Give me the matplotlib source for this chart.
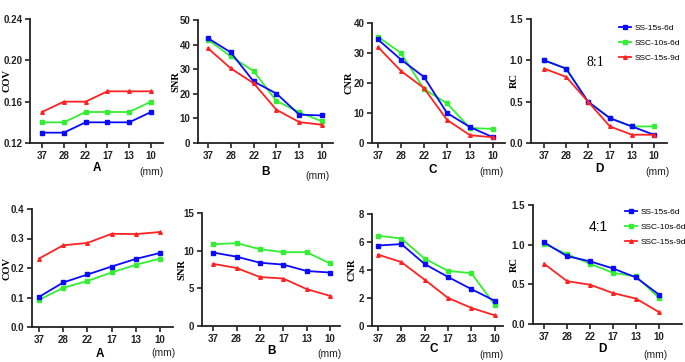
import matplotlib
matplotlib.use("Agg")
import matplotlib.pyplot as plt
import numpy as np

sizes = ["37", "28", "22", "17", "13", "10"]
series_names = ["SS-15s-6d", "SSC-10s-6d", "SSC-15s-9d"]

# Top row (8:1)
cov_81_ss = [0.13, 0.13, 0.14, 0.14, 0.14, 0.15]
cov_81_ssc10 = [0.14, 0.14, 0.15, 0.15, 0.15, 0.16]
cov_81_ssc15 = [0.15, 0.16, 0.16, 0.17, 0.17, 0.17]
snr_81_ss = [42.6, 36.8, 25.0, 20.1, 11.5, 11.2]
snr_81_ssc10 = [42.0, 35.2, 29.2, 17.1, 12.5, 8.8]
snr_81_ssc15 = [38.5, 30.3, 24.3, 13.5, 8.5, 7.4]
cnr_81_ss = [34.5, 27.8, 22.0, 10.0, 5.3, 1.9]
cnr_81_ssc10 = [35.4, 30.0, 18.0, 13.2, 5.0, 4.7]
cnr_81_ssc15 = [32.0, 24.0, 18.3, 7.7, 2.6, 1.9]
rc_81_ss = [1.0, 0.9, 0.5, 0.3, 0.2, 0.1]
rc_81_ssc10 = [1.0, 0.9, 0.5, 0.3, 0.2, 0.2]
rc_81_ssc15 = [0.9, 0.8, 0.5, 0.2, 0.1, 0.1]

# Bottom row (4:1)
cov_41_ss = [0.102, 0.151, 0.178, 0.205, 0.231, 0.251]
cov_41_ssc10 = [0.092, 0.133, 0.156, 0.185, 0.211, 0.232]
cov_41_ssc15 = [0.232, 0.277, 0.285, 0.316, 0.315, 0.322]
snr_41_ss = [9.75, 9.2, 8.4, 8.15, 7.3, 7.1]
snr_41_ssc10 = [10.85, 11.0, 10.2, 9.8, 9.8, 8.3]
snr_41_ssc15 = [8.25, 7.7, 6.5, 6.3, 4.9, 4.0]
cnr_41_ss = [5.75, 5.85, 4.42, 3.5, 2.63, 1.8]
cnr_41_ssc10 = [6.45, 6.25, 4.8, 3.94, 3.77, 1.5]
cnr_41_ssc15 = [5.1, 4.56, 3.3, 2.0, 1.29, 0.76]
rc_41_ss = [1.03, 0.855, 0.79, 0.70, 0.587, 0.37]
rc_41_ssc10 = [1.01, 0.88, 0.76, 0.645, 0.60, 0.33]
rc_41_ssc15 = [0.76, 0.54, 0.495, 0.39, 0.32, 0.15]

colors = ["#0a0aff", "#33ee33", "#ff2222"]
W, H = 685, 362
fig = plt.figure(figsize=(W / 100, H / 100), dpi=100)

def px_axes(x0, y0, x1, y1):
    return fig.add_axes([x0 / W, 1 - y1 / H, (x1 - x0) / W, (y1 - y0) / H])

panels = [
    ((30, 19, 163, 143), (-0.55, 5.55), (0.12, 0.24), [0.12, 0.16, 0.20, 0.24], "{:.2f}", "COV", 7, "A", (97, 168), (152, 172),
     [cov_81_ss, cov_81_ssc10, cov_81_ssc15]),
    ((198, 20, 333, 143), (-0.44, 5.48), (0, 50), [0, 10, 20, 30, 40, 50], "{:.0f}", "SNR", 176, "B", (265, 172), (318, 176),
     [snr_81_ss, snr_81_ssc10, snr_81_ssc15]),
    ((372, 23, 505, 143), (-0.26, 5.52), (0, 40), [0, 10, 20, 30, 40], "{:.0f}", "CNR", 349, "C", (433, 170), (492, 172),
     [cnr_81_ss, cnr_81_ssc10, cnr_81_ssc15]),
    ((531, 19, 667, 143), (-0.6, 5.6), (0, 1.5), [0.0, 0.5, 1.0, 1.5], "{:.1f}", "RC", 514, "D", (599, 169), (657, 172),
     [rc_81_ss, rc_81_ssc10, rc_81_ssc15]),
    ((32, 209, 173, 327), (-0.29, 5.53), (0, 0.4), [0.0, 0.1, 0.2, 0.3, 0.4], "{:.1f}", "COV", 7, "A", (100, 354), (163, 353),
     [cov_41_ss, cov_41_ssc10, cov_41_ssc15]),
    ((202, 213, 340, 326), (-0.48, 5.43), (0, 15), [0, 5, 10, 15], "{:.0f}", "SNR", 182, "B", (272, 351), (329, 354),
     [snr_41_ss, snr_41_ssc10, snr_41_ssc15]),
    ((372, 214, 503, 326), (-0.26, 5.35), (0, 8), [0, 2, 4, 6, 8], "{:.0f}", "CNR", 352, "C", (434, 349), (492, 355),
     [cnr_41_ss, cnr_41_ssc10, cnr_41_ssc15]),
    ((533, 205, 682, 324), (-0.48, 6.0), (0, 1.5), [0.0, 0.5, 1.0, 1.5], "{:.1f}", "RC", 514, "D", (602, 349), (655, 355),
     [rc_41_ss, rc_41_ssc10, rc_41_ssc15]),
]

legend_anchor = {3: (619, 24.5), 7: (625, 208.5)}

tick_font = dict(family="Liberation Sans", weight="bold", size=7)
for i, (rect, xl, yl, yt, fmt, ylab, ylx, letter, lpos, mpos, data) in enumerate(panels):
    ax = px_axes(*rect)
    x = np.arange(len(sizes))
    markers = ["s", "s", "^"]
    handles = {}
    for k in [1, 0, 2]:
        h, = ax.plot(x, data[k], color=colors[k], lw=1.3, marker=markers[k], ms=2.6,
                     mec=colors[k], mfc=colors[k], clip_on=False, zorder=3, label=series_names[k])
        handles[k] = h
    ax.set_xlim(*xl)
    ax.set_ylim(*yl)
    ax.set_xticks(x)
    ax.set_xticklabels(sizes, **tick_font)
    ax.set_yticks(yt)
    ax.set_yticklabels([fmt.format(v) for v in yt], **tick_font)
    for s in ["top", "right"]:
        ax.spines[s].set_visible(False)
    for s in ["left", "bottom"]:
        ax.spines[s].set_linewidth(1.3)
        ax.spines[s].set_color("#222222")
    ax.tick_params(direction="out", length=3.5, width=1.2, pad=2, colors="#222222")
    ax.set_ylabel(ylab, family="Liberation Serif", weight="bold", size=7.5, va="center")
    ax.yaxis.set_label_coords((ylx - rect[0]) / (rect[2] - rect[0]), 0.5)
    ax.patch.set_alpha(0)
    fig.text(lpos[0] / W, 1 - lpos[1] / H, letter, ha="center", va="center",
             family="Liberation Sans", weight="bold", size=8.5)
    fig.text(mpos[0] / W, 1 - mpos[1] / H, "(mm)", ha="center", va="center",
             family="Liberation Sans", size=7.5, color="#222222")
    if i in legend_anchor:
        ax_, ay_ = legend_anchor[i]
        fig.legend([handles[0], handles[1], handles[2]], series_names, loc="upper left",
                   bbox_to_anchor=(ax_ / W, 1 - ay_ / H), bbox_transform=fig.transFigure,
                   frameon=False, prop=dict(family="Liberation Sans", size=6),
                   handlelength=1.4, handletextpad=0.5, labelspacing=0.85,
                   borderaxespad=0, borderpad=0)

fig.text(595 / W, 1 - 62 / H, "8:1", ha="center", va="center", family="Liberation Serif", size=10)
fig.text(598 / W, 1 - 227 / H, "4:1", ha="center", va="center", family="Liberation Sans", size=10)

fig.savefig("out.png", dpi=100, facecolor="white")
